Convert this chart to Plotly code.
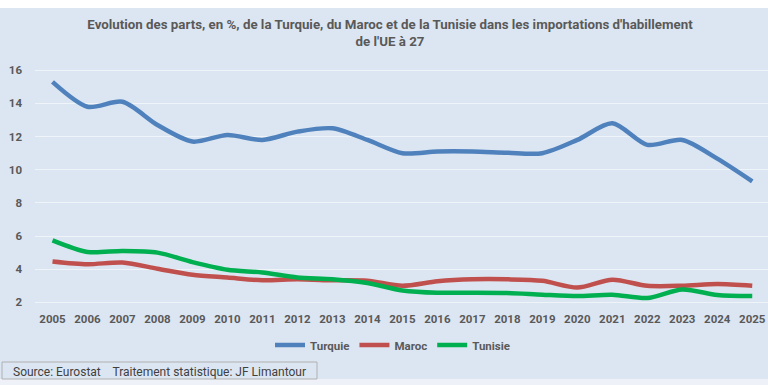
import plotly.graph_objects as go

years = list(range(2005, 2026))
turquie = [15.3, 13.8, 14.1, 12.7, 11.7, 12.1, 11.8, 12.3, 12.5, 11.8, 11.0, 11.1, 11.1, 11.03, 11.0, 11.8, 12.8, 11.5, 11.8, 10.67, 9.3]
maroc = [4.47, 4.3, 4.4, 4.03, 3.67, 3.5, 3.33, 3.39, 3.33, 3.3, 3.0, 3.27, 3.39, 3.39, 3.3, 2.89, 3.37, 3.0, 3.0, 3.1, 3.0]
tunisie = [5.74, 5.04, 5.1, 5.0, 4.43, 3.97, 3.8, 3.5, 3.4, 3.17, 2.72, 2.58, 2.58, 2.56, 2.46, 2.38, 2.46, 2.26, 2.78, 2.44, 2.38]
y_ticks = [2, 4, 6, 8, 10, 12, 14, 16]

series = [("Turquie", turquie, "#4f81bd"), ("Maroc", maroc, "#c0504d"), ("Tunisie", tunisie, "#00b050")]

FONT = "Roboto, Open Sans, sans-serif"
BG = "#dce6f2"
TXT = "#595959"

W, H = 768, 385
mt, mb, ml, mr = 67, 385 - 304, 35, 0
ph = H - mt - mb
pw = W - ml - mr

def py(page_y):
    return 1 - (page_y - mt) / ph

def px(page_x):
    return (page_x - ml) / pw

fig = go.Figure()
for name, vals, col in series:
    fig.add_trace(go.Scatter(x=years, y=vals, name=f"<b>{name}</b>", mode="lines",
                             line=dict(color=col, width=4.5, shape="spline", smoothing=0.8)))

fig.update_layout(
    width=W, height=H,
    margin=dict(l=ml, r=mr, t=mt, b=mb, autoexpand=False),
    paper_bgcolor=BG, plot_bgcolor=BG,
    font=dict(family=FONT, color=TXT),
    title=dict(text="<b>Evolution des parts, en %, de la Turquie, du Maroc et de la Tunisie dans les importations d'habillement<br>de l'UE à 27</b>",
               x=390 / W, xanchor="center", y=1 - 29 / H, yanchor="top",
               font=dict(size=13.3, color=TXT, family=FONT)),
    xaxis=dict(range=[2004.5, 2025.45], tickmode="array", tickvals=years,
               ticktext=[f"<b>{y}</b>" for y in years], showgrid=False, zeroline=False,
               showline=False, ticks="", tickfont=dict(size=11.5, color=TXT, family=FONT),
               ticklabelstandoff=6, tickangle=0, automargin=False, fixedrange=True),
    yaxis=dict(range=[1.9, 16.2], tickmode="array", tickvals=y_ticks, ticktext=[f"<b>{v}</b>" for v in y_ticks],
               showgrid=True, gridcolor="rgba(255,255,255,0.55)", gridwidth=1, zeroline=False,
               ticks="", tickfont=dict(size=11.5, color=TXT, family=FONT), ticklabelstandoff=12,
               automargin=False, fixedrange=True),
    legend=dict(orientation="h", x=px(393), xanchor="center", y=py(345), yanchor="middle",
                font=dict(size=11.5, color=TXT, family=FONT), itemwidth=30,
                bgcolor="rgba(0,0,0,0)", tracegroupgap=0),
    showlegend=True,
)

# white strip at the top, lighter strip at the bottom
fig.add_shape(type="rect", xref="paper", yref="paper", x0=px(-2), x1=px(770),
              y0=py(8), y1=py(-2), fillcolor="white", line_width=0, layer="below")
fig.add_shape(type="rect", xref="paper", yref="paper", x0=px(-2), x1=px(770),
              y0=py(390), y1=py(379), fillcolor="#eef2f8", line_width=0, layer="below")
# source box
fig.add_shape(type="rect", xref="paper", yref="paper", x0=px(2), x1=px(317),
              y0=py(379), y1=py(362), fillcolor=BG, line=dict(color="#b0b0b0", width=1))
fig.add_annotation(text="Source: Eurostat    Traitement statistique: JF Limantour", xref="paper", yref="paper",
                   x=px(11), xanchor="left", y=py(372), yanchor="middle", showarrow=False,
                   font=dict(size=12, color="#404040", family=FONT))

fig.write_html("out.html", config={"displayModeBar": False},
               post_script="document.body.style.margin='0';document.body.style.overflow='hidden';")
